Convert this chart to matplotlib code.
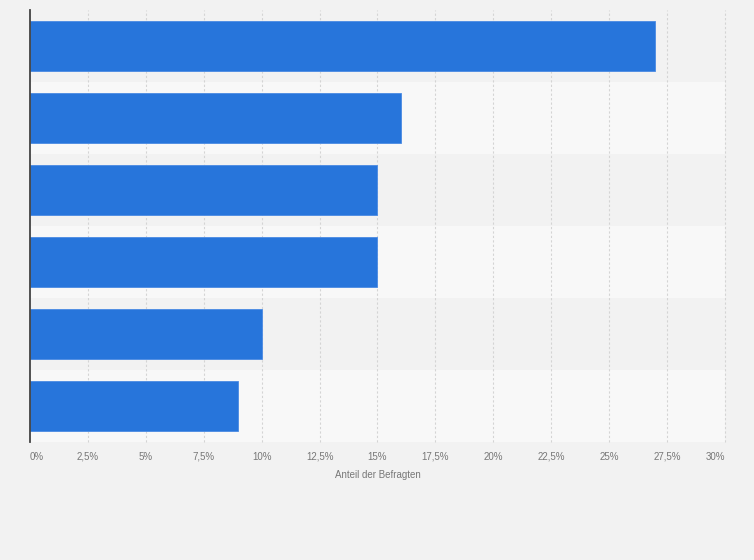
import matplotlib
matplotlib.use("Agg")
import matplotlib.pyplot as plt

plt.rcParams["font.family"] = ["Liberation Sans", "DejaVu Sans"]

categories = ["A", "B", "C", "D", "E", "F"]
values = [27, 16, 15, 15, 10, 9]
xticks = [0, 2.5, 5, 7.5, 10, 12.5, 15, 17.5, 20, 22.5, 25, 27.5, 30]
xticklabels = ["0%", "2,5%", "5%", "7,5%", "10%", "12,5%", "15%", "17,5%",
               "20%", "22,5%", "25%", "27,5%", "30%"]

fig = plt.figure(figsize=(7.54, 5.6), dpi=100)
fig.patch.set_facecolor("#f2f2f2")
ax = fig.add_axes([30/754, 1-442/560, 695/754, 432/560])
ax.set_facecolor("#f2f2f2")

n = len(categories)
ypos = list(range(n))
for i in ypos:
    ax.axhspan(i - 0.5, i + 0.5, color="#f2f2f2" if i % 2 == 0 else "#f8f8f8", zorder=0, lw=0)

for x in xticks[1:]:
    ax.axvline(x, color="#d4d4d4", lw=0.8, ls=(0, (2, 2)), zorder=1, clip_on=False)

ax.barh(ypos, values, height=0.7, color="#2775db", edgecolor="#4a8ae3", linewidth=0.6, zorder=2)
ax.set_xlim(0, 30)
ax.set_ylim(n - 0.5, -0.5)
ax.set_yticks([])
ax.set_xticks(xticks)
labels = ax.set_xticklabels(xticklabels, fontsize=7, color="#777777")
labels[0].set_ha("left")
labels[-1].set_ha("right")
ax.tick_params(axis="x", length=0, pad=7)
for s in ["top", "right", "bottom"]:
    ax.spines[s].set_visible(False)
ax.spines["left"].set_color("#444444")
ax.spines["left"].set_linewidth(1.3)
ax.set_xlabel("Anteil der Befragten", fontsize=7, color="#777777", labelpad=6)

fig.savefig("out.png", dpi=100, facecolor=fig.get_facecolor())
